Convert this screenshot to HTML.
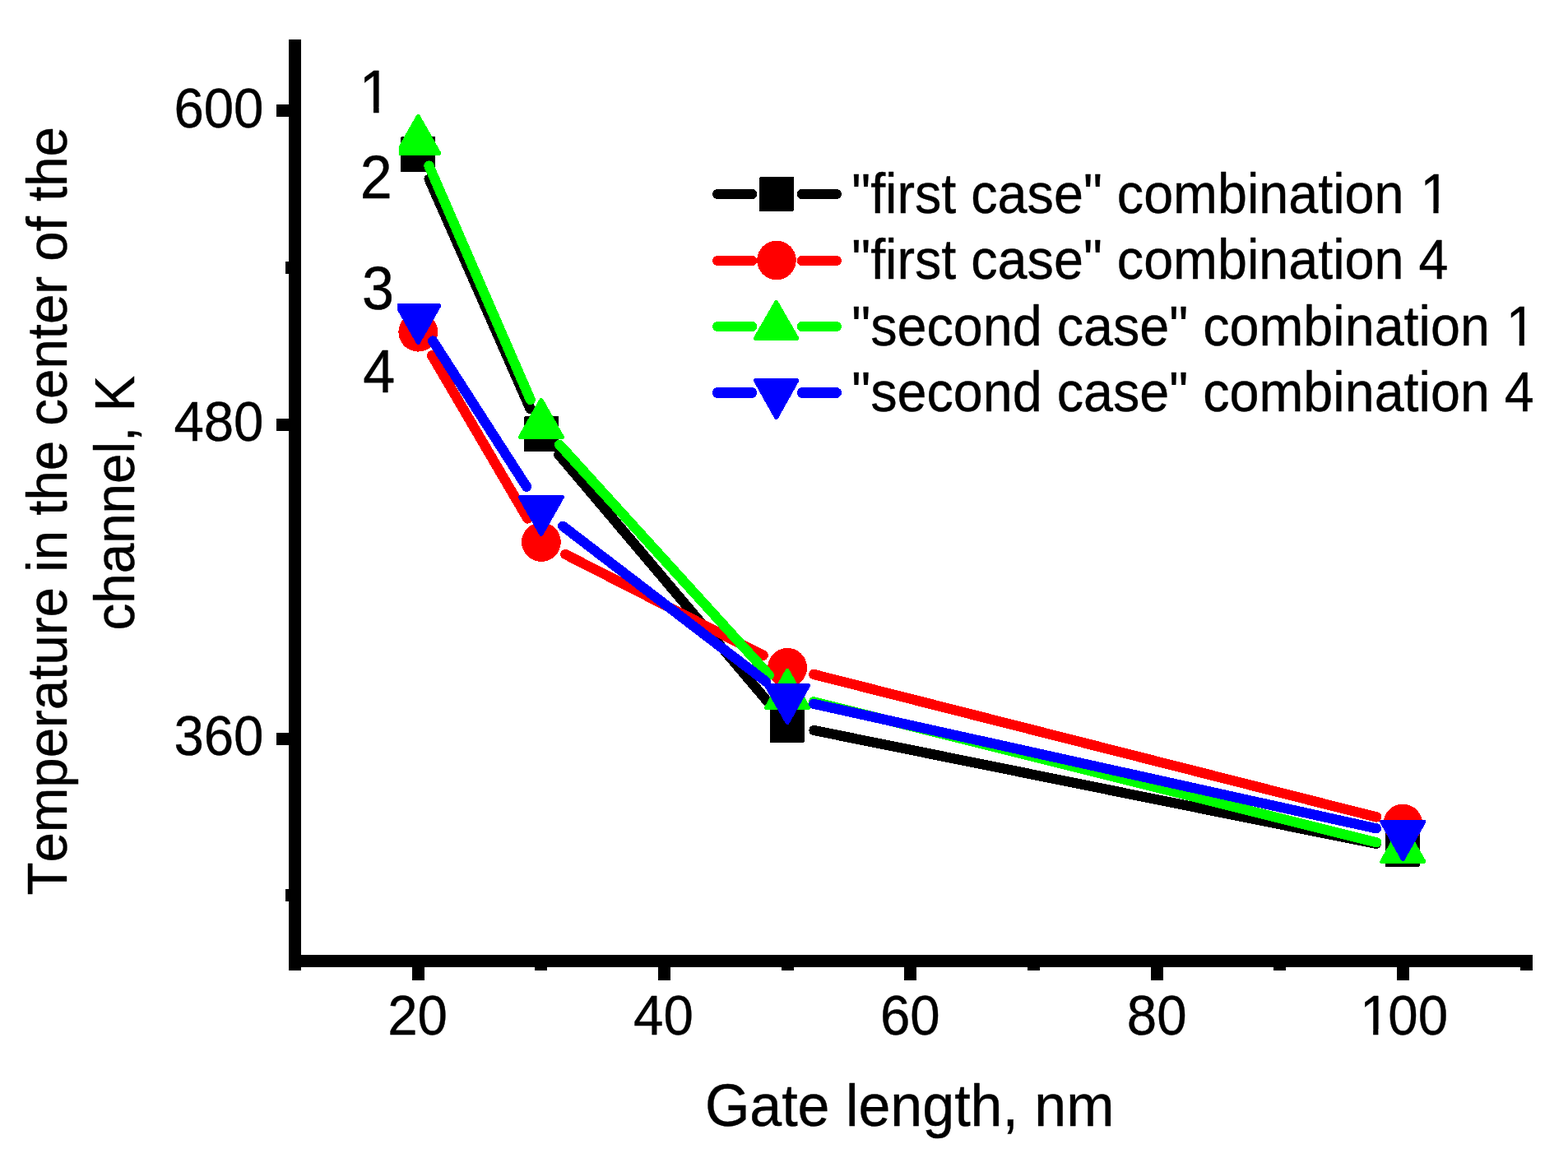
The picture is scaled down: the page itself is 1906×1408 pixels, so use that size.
<!DOCTYPE html>
<html lang="en">
<head>
<meta charset="utf-8">
<title>Temperature in the center of the channel vs gate length</title>
<style>
html,body{margin:0;padding:0;background:#fff;}
body{width:1906px;height:1408px;overflow:hidden;}
svg{display:block;}
svg text{font-family:"Liberation Sans",Arial,Helvetica,sans-serif;fill:#000;font-kerning:none;stroke:#000;stroke-width:0.4px;stroke-linejoin:round;}
</style>
</head>
<body>
<svg width="1906" height="1408" viewBox="0 0 1906 1408">
<rect width="1906" height="1408" fill="#fff"/>
<defs>
<clipPath id="c1"><rect x="0" y="0" width="1906" height="1251.47"/><rect x="0" y="1250.47" width="1656.44" height="200"/><rect x="1687.63" y="1250.47" width="218.37" height="200"/><rect x="1669.2" y="1250.47" width="6.18" height="200"/></clipPath>
<clipPath id="c2"><rect x="0" y="0" width="1906" height="130.26"/><rect x="0" y="129.26" width="440.44" height="200"/><rect x="473.62" y="129.26" width="1432.38" height="200"/><rect x="454.01" y="129.26" width="6.59" height="200"/></clipPath>
<clipPath id="c3"><rect x="0" y="0" width="1906" height="252.9"/><rect x="0" y="251.9" width="1729.77" height="200"/><rect x="1760.66" y="251.9" width="145.34" height="200"/><rect x="1742.41" y="251.9" width="6.12" height="200"/></clipPath>
<clipPath id="c4"><rect x="0" y="0" width="1906" height="413.3"/><rect x="0" y="412.3" width="1834.11" height="200"/><rect x="1864.99" y="412.3" width="41.01" height="200"/><rect x="1846.75" y="412.3" width="6.12" height="200"/></clipPath>
</defs>
<g id="data" shape-rendering="crispEdges">
<line x1="521.59" y1="217.71" x2="644.61" y2="497.29" stroke="#000000" stroke-width="12.2" stroke-linecap="round"/>
<line x1="679.2" y1="552.7" x2="935.8" y2="856.3" stroke="#000000" stroke-width="12.2" stroke-linecap="round"/>
<line x1="989.45" y1="888.03" x2="1672.95" y2="1025.97" stroke="#000000" stroke-width="12.2" stroke-linecap="round"/>
<rect x="487" y="166" width="42" height="43" rx="2" fill="#000000"/>
<rect x="637" y="506" width="42" height="43" rx="2" fill="#000000"/>
<rect x="936" y="860" width="42" height="43" rx="2" fill="#000000"/>
<rect x="1684" y="1011" width="42" height="43" rx="2" fill="#000000"/>
<line x1="524.98" y1="432.17" x2="641.22" y2="630.53" stroke="#ff0000" stroke-width="12.2" stroke-linecap="round"/>
<line x1="687.29" y1="674.01" x2="927.71" y2="796.79" stroke="#ff0000" stroke-width="12.2" stroke-linecap="round"/>
<line x1="989.09" y1="819.91" x2="1673.31" y2="993.49" stroke="#ff0000" stroke-width="12.2" stroke-linecap="round"/>
<circle cx="508.3" cy="403.7" r="23.9" fill="#ff0000"/>
<circle cx="657.9" cy="659" r="23.9" fill="#ff0000"/>
<circle cx="957.1" cy="811.8" r="23.9" fill="#ff0000"/>
<circle cx="1705.3" cy="1001.6" r="23.9" fill="#ff0000"/>
<line x1="521.43" y1="201.58" x2="644.77" y2="486.02" stroke="#00ff00" stroke-width="12.2" stroke-linecap="round"/>
<line x1="680.1" y1="540.71" x2="934.9" y2="820.89" stroke="#00ff00" stroke-width="12.2" stroke-linecap="round"/>
<line x1="989.12" y1="853.3" x2="1673.28" y2="1024.3" stroke="#00ff00" stroke-width="12.2" stroke-linecap="round"/>
<polygon points="508.3,141.4 533.8,186.5 482.8,186.5" fill="#00ff00" stroke="#00ff00" stroke-width="5" stroke-linejoin="round"/>
<polygon points="657.9,486.4 683.4,531.5 632.4,531.5" fill="#00ff00" stroke="#00ff00" stroke-width="5" stroke-linejoin="round"/>
<polygon points="957.1,815.4 982.6,860.5 931.6,860.5" fill="#00ff00" stroke="#00ff00" stroke-width="5" stroke-linejoin="round"/>
<polygon points="1705.3,1002.4 1730.8,1047.5 1679.8,1047.5" fill="#00ff00" stroke="#00ff00" stroke-width="5" stroke-linejoin="round"/>
<line x1="526.13" y1="414.47" x2="640.07" y2="591.83" stroke="#0000ff" stroke-width="12.2" stroke-linecap="round"/>
<line x1="684.1" y1="639.66" x2="930.9" y2="828.64" stroke="#0000ff" stroke-width="12.2" stroke-linecap="round"/>
<line x1="989.32" y1="855.84" x2="1673.08" y2="1007.36" stroke="#0000ff" stroke-width="12.2" stroke-linecap="round"/>
<polygon points="482.8,371.5 533.8,371.5 508.3,416.6" fill="#0000ff" stroke="#0000ff" stroke-width="5" stroke-linejoin="round"/>
<polygon points="632.4,604.4 683.4,604.4 657.9,649.5" fill="#0000ff" stroke="#0000ff" stroke-width="5" stroke-linejoin="round"/>
<polygon points="931.6,833.5 982.6,833.5 957.1,878.6" fill="#0000ff" stroke="#0000ff" stroke-width="5" stroke-linejoin="round"/>
<polygon points="1679.8,999.3 1730.8,999.3 1705.3,1044.4" fill="#0000ff" stroke="#0000ff" stroke-width="5" stroke-linejoin="round"/>
</g>
<g id="labelbg" fill="#fff">
<rect x="430" y="176.5" width="54.9" height="70"/>
<rect x="430" y="318" width="53.1" height="62"/>
</g>
<g id="axes" fill="#000" shape-rendering="crispEdges">
<rect x="351" y="48" width="15" height="1132"/>
<rect x="351" y="1161" width="1512" height="15"/>
<rect x="336" y="127" width="16" height="15"/>
<rect x="336" y="509" width="16" height="15"/>
<rect x="336" y="891" width="16" height="15"/>
<rect x="347" y="318" width="5" height="15"/>
<rect x="347" y="1081" width="5" height="15"/>
<rect x="501" y="1175" width="15" height="17"/>
<rect x="800" y="1175" width="15" height="17"/>
<rect x="1099" y="1175" width="15" height="17"/>
<rect x="1399" y="1175" width="15" height="17"/>
<rect x="1698" y="1175" width="15" height="17"/>
<rect x="650" y="1175" width="15" height="5"/>
<rect x="950" y="1175" width="15" height="5"/>
<rect x="1249" y="1175" width="15" height="5"/>
<rect x="1548" y="1175" width="15" height="5"/>
<rect x="1848" y="1175" width="15" height="5"/>
</g>
<g id="ticklabels">
<text transform="translate(320.49 154.7) scale(1.0000 1.0500)" font-size="65.4" text-anchor="end">600</text>
<text transform="translate(320.49 536.1) scale(1.0000 1.0500)" font-size="65.4" text-anchor="end">480</text>
<text transform="translate(320.49 917.7) scale(1.0000 1.0500)" font-size="65.4" text-anchor="end">360</text>
<text transform="translate(507.6 1257.9) scale(1.0000 1.0500)" font-size="65.4" text-anchor="middle">20</text>
<text transform="translate(806.4 1257.9) scale(1.0000 1.0500)" font-size="65.4" text-anchor="middle">40</text>
<text transform="translate(1106.3 1257.9) scale(1.0000 1.0500)" font-size="65.4" text-anchor="middle">60</text>
<text transform="translate(1406.2 1257.9) scale(1.0000 1.0500)" font-size="65.4" text-anchor="middle">80</text>
<g clip-path="url(#c1)"><text transform="translate(1650.94 1257.9) scale(1.0000 1.0500)" font-size="65.4"><tspan dx="2.01">1</tspan><tspan dx="-2.01">00</tspan></text></g>
</g>
<g id="titles">
<text transform="translate(856.9 1368.7) scale(1.0000 1.0300)" font-size="69.94">Gate length, nm</text>
<text transform="translate(80.9 1088.5) rotate(-90) scale(1.0000 1.0400)" font-size="65.42">Temperature in the center of the</text>
<text transform="translate(163.2 766.4) rotate(-90) scale(1.0000 1.0400)" font-size="65.5">channel, K</text>
</g>
<g id="curvelabels">
<g clip-path="url(#c2)"><text transform="translate(436.61 137.1) scale(1.0000 1.0600)" font-size="70">1</text></g>
<text transform="translate(437.7 240.8) scale(1.0000 1.0600)" font-size="70">2</text>
<text transform="translate(440.1 376.3) scale(1.0000 1.0600)" font-size="70">3</text>
<text transform="translate(441.15 477) scale(1.0000 1.0600)" font-size="70">4</text>
</g>
<g id="legend" shape-rendering="crispEdges">
<line x1="872" y1="236" x2="914.2" y2="236" stroke="#000000" stroke-width="12" stroke-linecap="round"/>
<line x1="974.8" y1="236" x2="1017" y2="236" stroke="#000000" stroke-width="12" stroke-linecap="round"/>
<rect x="923" y="215" width="42" height="42" rx="2" fill="#000000"/>
<g shape-rendering="auto"><g clip-path="url(#c3)"><text transform="translate(1035.2 259.3) scale(1.0000 1.0550)" font-size="64.67">&quot;first case&quot; combination <tspan dx="1.99">1</tspan></text></g></g>
<line x1="872" y1="317" x2="914.2" y2="317" stroke="#ff0000" stroke-width="12" stroke-linecap="round"/>
<line x1="974.8" y1="317" x2="1017" y2="317" stroke="#ff0000" stroke-width="12" stroke-linecap="round"/>
<circle cx="944" cy="316.5" r="23.8" fill="#ff0000"/>
<g shape-rendering="auto"><text transform="translate(1035.2 339.3) scale(1.0000 1.0550)" font-size="64.67">&quot;first case&quot; combination 4</text></g>
<line x1="872" y1="397" x2="914.2" y2="397" stroke="#00ff00" stroke-width="12" stroke-linecap="round"/>
<line x1="974.8" y1="397" x2="1017" y2="397" stroke="#00ff00" stroke-width="12" stroke-linecap="round"/>
<polygon points="943.6,367.6 968.8,411.4 918.4,411.4" fill="#00ff00" stroke="#00ff00" stroke-width="5" stroke-linejoin="round"/>
<g shape-rendering="auto"><g clip-path="url(#c4)"><text transform="translate(1035.2 419.7) scale(1.0000 1.0550)" font-size="64.67">&quot;second case&quot; combination <tspan dx="1.99">1</tspan></text></g></g>
<line x1="872.5" y1="477.5" x2="913.7" y2="477.5" stroke="#0000ff" stroke-width="13" stroke-linecap="round"/>
<line x1="975.3" y1="477.5" x2="1016.5" y2="477.5" stroke="#0000ff" stroke-width="13" stroke-linecap="round"/>
<polygon points="918.4,462.6 968.8,462.6 943.6,507.6" fill="#0000ff" stroke="#0000ff" stroke-width="5" stroke-linejoin="round"/>
<g shape-rendering="auto"><text transform="translate(1035.2 499.8) scale(1.0000 1.0550)" font-size="64.67">&quot;second case&quot; combination 4</text></g>
</g>
</svg>
</body>
</html>
